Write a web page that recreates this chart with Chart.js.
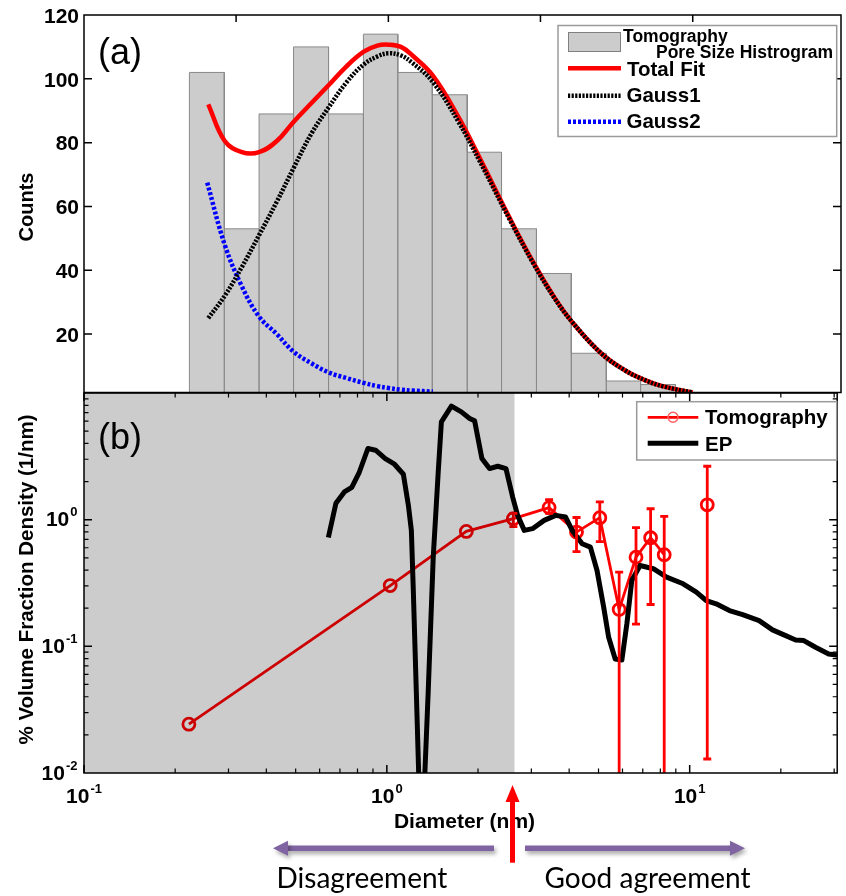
<!DOCTYPE html>
<html>
<head>
<meta charset="utf-8">
<script src="https://cdn.jsdelivr.net/npm/chart.js@4.4.1/dist/chart.umd.min.js"></script>
<style>
  body { margin: 0; background: #fff; width: 846px; height: 896px; overflow: hidden; position: relative; }
  canvas { position: absolute; left: 0; top: 0; }
</style>
</head>
<body>
<canvas id="topChart" width="846" height="896"></canvas>
<canvas id="botChart" width="846" height="896"></canvas>
<script>
// axis ranges
const xMin = 0.1, xMax = 30.7;
const countsMin = 1.7, countsMax = 120;
const densMin = 0.01, densMax = 10;

// (a) pore size histogram, bin edges in nm
const histEdges = [0.222, 0.289, 0.376, 0.488, 0.636, 0.828, 1.074, 1.394, 1.816, 2.354, 3.066, 3.99, 5.2, 6.74, 8.78];
const histCounts = [102, 53, 89, 110, 89, 114, 102, 95, 77, 53, 39, 14, 5.3, 4.2];

// (a) fit curves
const fitX = [0.256, 0.29, 0.33, 0.376, 0.43, 0.488, 0.56, 0.636, 0.73, 0.83, 0.92, 1.0, 1.1, 1.2, 1.4, 1.7, 2.0, 2.5, 3.0, 3.5, 4.0, 5.0, 6.0, 7.0, 8.0, 10.0];
const totalFit = [92, 80.5, 77, 77, 80.5, 86.5, 92.5, 98, 104, 108.5, 110.4, 110.7, 110, 107.3, 101, 88, 75, 56.5, 42.3, 31.7, 24, 14, 8.6, 5.5, 3.6, 1.7];
const gauss1 = [25, 32, 41, 51, 61.5, 72, 83, 91, 99, 104.5, 107, 108, 107.3, 105, 99, 86.5, 74, 56, 42, 31.5, 24, 14, 8.6, 5.5, 3.6, 1.7];
const gauss2X = [0.254, 0.29, 0.33, 0.376, 0.43, 0.488, 0.56, 0.636, 0.73, 0.83, 0.92, 1.0, 1.1, 1.2, 1.4];
const gauss2 = [67.5, 48, 35, 25.5, 20, 14.5, 10.8, 8, 6.2, 4.7, 3.7, 3.1, 2.6, 2.3, 2.0];

// (b) tomography points with error bars
const tomoX = [0.222, 1.026, 1.83, 2.617, 3.434, 4.23, 5.05, 5.85, 6.65, 7.43, 8.24, 11.43];
const tomoY = [0.0243, 0.302, 0.808, 1.018, 1.245, 0.798, 1.037, 0.195, 0.506, 0.72, 0.529, 1.31];
const tomoLo = [null, null, null, 0.88, 1.12, 0.56, 0.67, 0.001, 0.15, 0.214, 0.001, 0.0129];
const tomoHi = [null, null, null, 1.12, 1.44, 1.04, 1.38, 0.385, 0.865, 1.22, 1.06, 2.64];
const tomoGapBefore = [11];

// (b) EP curve
const epX = [0.641, 0.679, 0.724, 0.766, 0.811, 0.866, 0.918, 0.988, 1.06, 1.134, 1.178, 1.205, 1.223, 1.251, 1.299, 1.37, 1.423, 1.477, 1.514, 1.634, 1.762, 1.877, 1.949, 2.06, 2.183, 2.324, 2.474, 2.603, 2.703, 2.843, 3.027, 3.307, 3.609, 3.892, 4.094, 4.415, 4.701, 4.944, 5.201, 5.401, 5.677, 5.972, 6.202, 6.44, 6.857, 7.586, 8.388, 9.515, 10.52, 11.34, 12.23, 13.53, 14.96, 16.96, 18.77, 20.75, 22.38, 23.82, 26.03, 28.77, 31.44];
const epY = [0.724, 1.346, 1.654, 1.80, 2.367, 3.645, 3.534, 3.038, 2.739, 2.282, 1.298, 0.823, 0.276, 0.0446, 0.002, 0.0446, 0.506, 2.312, 5.92, 7.88, 7.10, 6.30, 6.03, 3.04, 2.532, 2.641, 2.53, 1.509, 1.081, 0.823, 0.849, 0.987, 1.081, 1.048, 0.823, 0.646, 0.607, 0.397, 0.2035, 0.1178, 0.0795, 0.078, 0.1504, 0.331, 0.435, 0.41, 0.3515, 0.3117, 0.2675, 0.23, 0.2165, 0.1916, 0.178, 0.1597, 0.1348, 0.1215, 0.1123, 0.111, 0.0983, 0.0871, 0.0844];

// region where tomography disagrees
const shadeLimit = 2.64;

// ticks
const countTicks = [20, 40, 60, 80, 100, 120];
const topEdgeTicks = [0.316, 1, 3.16, 10];
const xDecades = [0.1, 1, 10], xExps = ['-1', '0', '1'];
const yDecades = [0.01, 0.1, 1], yExps = ['-2', '-1', '0'];

const FONT = '"Liberation Sans", Arial, sans-serif';

function pairs(xs, ys) {
  return xs.map((x, i) => ({ x: x, y: ys[i] }));
}

function histOutline() {
  const pts = [];
  for (let i = 0; i < histCounts.length; i++) {
    pts.push({ x: histEdges[i], y: countsMin }, { x: histEdges[i], y: histCounts[i] },
             { x: histEdges[i + 1], y: histCounts[i] }, { x: histEdges[i + 1], y: countsMin });
  }
  return pts;
}

function logTicks(min, max) {
  const major = [], minor = [];
  for (let k = Math.floor(Math.log10(min)); k <= Math.ceil(Math.log10(max)); k++) {
    for (let m = 1; m <= 9; m++) {
      const v = m * Math.pow(10, k);
      if (v < min * 0.999 || v > max * 1.001) continue;
      (m === 1 ? major : minor).push(v);
    }
  }
  return { major, minor };
}

function frame(ctx, a) {
  ctx.save();
  ctx.strokeStyle = '#000';
  ctx.lineWidth = 1.5;
  ctx.strokeRect(a.left, a.top, a.right - a.left, a.bottom - a.top);
  ctx.restore();
}

function xTicks(ctx, sx, a, vals, len, top, bottom) {
  ctx.beginPath();
  vals.forEach(v => {
    const px = sx.getPixelForValue(v);
    if (top) { ctx.moveTo(px, a.top); ctx.lineTo(px, a.top + len); }
    if (bottom) { ctx.moveTo(px, a.bottom); ctx.lineTo(px, a.bottom - len); }
  });
  ctx.stroke();
}

function yTicks(ctx, sy, a, vals, len) {
  ctx.beginPath();
  vals.forEach(v => {
    const py = sy.getPixelForValue(v);
    ctx.moveTo(a.left, py); ctx.lineTo(a.left + len, py);
    ctx.moveTo(a.right, py); ctx.lineTo(a.right - len, py);
  });
  ctx.stroke();
}

function powLabel(ctx, exp, x, y, align) {
  ctx.font = 'bold 21px ' + FONT;
  const wb = ctx.measureText('10').width;
  ctx.font = 'bold 13px ' + FONT;
  const we = ctx.measureText(exp).width;
  const w = wb + we + 1;
  const x0 = align === 'right' ? x - w : x - w / 2;
  ctx.textAlign = 'left';
  ctx.textBaseline = 'middle';
  ctx.font = 'bold 21px ' + FONT;
  ctx.fillText('10', x0, y);
  ctx.font = 'bold 13px ' + FONT;
  ctx.fillText(exp, x0 + wb + 1, y - 8);
}

function vText(ctx, text, x, y, font) {
  ctx.save();
  ctx.translate(x, y);
  ctx.rotate(-Math.PI / 2);
  ctx.font = font;
  ctx.textAlign = 'center';
  ctx.textBaseline = 'alphabetic';
  ctx.fillText(text, 0, 0);
  ctx.restore();
}

function seg(ctx, x0, y0, x1, y1, color, width, dash) {
  ctx.save();
  ctx.strokeStyle = color;
  ctx.lineWidth = width;
  ctx.setLineDash(dash || []);
  ctx.beginPath();
  ctx.moveTo(x0, y0);
  ctx.lineTo(x1, y1);
  ctx.stroke();
  ctx.restore();
}

function arrow(ctx, x0, y0, x1, y1, w, head, headW, color) {
  const ang = Math.atan2(y1 - y0, x1 - x0);
  const bx = x1 - Math.cos(ang) * head, by = y1 - Math.sin(ang) * head;
  ctx.strokeStyle = color;
  ctx.lineWidth = w;
  ctx.beginPath();
  ctx.moveTo(x0, y0);
  ctx.lineTo(bx, by);
  ctx.stroke();
  ctx.fillStyle = color;
  ctx.beginPath();
  ctx.moveTo(x1, y1);
  ctx.lineTo(bx + Math.sin(ang) * headW, by - Math.cos(ang) * headW);
  ctx.lineTo(bx - Math.sin(ang) * headW, by + Math.cos(ang) * headW);
  ctx.closePath();
  ctx.fill();
}

const topDecor = {
  id: 'topDecor',
  afterDraw(chart) {
    const ctx = chart.ctx, a = chart.chartArea;
    const sx = chart.scales.x, sy = chart.scales.y;
    ctx.save();
    frame(ctx, a);
    ctx.strokeStyle = '#000';
    ctx.lineWidth = 1.5;
    xTicks(ctx, sx, a, topEdgeTicks, 7, true, false);
    yTicks(ctx, sy, a, countTicks.filter(v => v < countsMax), 8);

    ctx.fillStyle = '#000';
    ctx.font = 'bold 21px ' + FONT;
    ctx.textAlign = 'right';
    ctx.textBaseline = 'middle';
    countTicks.forEach(v => ctx.fillText(String(v), 79, sy.getPixelForValue(v) + 2));
    vText(ctx, 'Counts', 33, 207, 'bold 20px ' + FONT);

    ctx.font = '36px ' + FONT;
    ctx.textAlign = 'left';
    ctx.textBaseline = 'alphabetic';
    ctx.fillText('(a)', 98, 64);

    // legend
    ctx.fillStyle = '#fff';
    ctx.fillRect(558, 25.5, 278.7, 111);
    ctx.strokeStyle = '#9a9a9a';
    ctx.lineWidth = 1.5;
    ctx.strokeRect(558, 25.5, 278.7, 111);
    ctx.fillStyle = '#cccccc';
    ctx.fillRect(568.5, 32.5, 52, 19);
    ctx.strokeStyle = '#808080';
    ctx.lineWidth = 1;
    ctx.strokeRect(568.5, 32.5, 52, 19);
    ctx.fillStyle = '#000';
    ctx.font = 'bold 17.5px ' + FONT;
    ctx.fillText('Tomography', 623, 41.5);
    ctx.fillText('Pore Size Histrogram', 656, 57.5);
    seg(ctx, 568, 68.3, 621, 68.3, '#ff0000', 4.5);
    seg(ctx, 568, 95.7, 621, 95.7, '#000', 4.5, [2.2, 1.4]);
    seg(ctx, 568, 121.7, 621, 121.7, '#0000ff', 4.5, [3, 2]);
    ctx.font = 'bold 20.5px ' + FONT;
    ctx.fillText('Total Fit', 627, 75.5);
    ctx.fillText('Gauss1', 626.5, 102);
    ctx.fillText('Gauss2', 626.5, 128);
    ctx.restore();
  }
};

const botDecor = {
  id: 'botDecor',
  afterDatasetsDraw(chart) {
    const ctx = chart.ctx, a = chart.chartArea;
    const sx = chart.scales.x, sy = chart.scales.y;
    ctx.save();
    ctx.beginPath();
    ctx.rect(a.left, a.top, a.right - a.left, a.bottom - a.top);
    ctx.clip();
    // error bars
    ctx.strokeStyle = '#ff0000';
    ctx.lineWidth = 2.8;
    tomoX.forEach((x, i) => {
      if (tomoLo[i] === null) return;
      const px = sx.getPixelForValue(x);
      const pl = sy.getPixelForValue(tomoLo[i]);
      const ph = sy.getPixelForValue(tomoHi[i]);
      ctx.beginPath();
      ctx.moveTo(px, pl); ctx.lineTo(px, ph);
      [tomoLo[i], tomoHi[i]].forEach(v => {
        if (v < densMin || v > densMax) return;
        const py = sy.getPixelForValue(v);
        ctx.moveTo(px - 4, py); ctx.lineTo(px + 4, py);
      });
      ctx.stroke();
    });
    // shaded disagreement region
    ctx.fillStyle = 'rgba(0,0,0,0.2)';
    const sxp = sx.getPixelForValue(shadeLimit);
    ctx.fillRect(a.left, a.top, sxp - a.left, a.bottom - a.top);
    ctx.restore();
  },
  afterDraw(chart) {
    const ctx = chart.ctx, a = chart.chartArea;
    const sx = chart.scales.x, sy = chart.scales.y;
    const lx = logTicks(xMin, xMax), ly = logTicks(densMin, densMax);
    ctx.save();
    frame(ctx, a);
    ctx.strokeStyle = '#000';
    ctx.lineWidth = 1.5;
    xTicks(ctx, sx, a, lx.major, 8, true, true);
    ctx.lineWidth = 1.2;
    xTicks(ctx, sx, a, lx.minor, 4.5, true, true);
    ctx.lineWidth = 1.5;
    yTicks(ctx, sy, a, ly.major.filter(v => v > densMin && v < densMax), 8);
    ctx.lineWidth = 1.2;
    yTicks(ctx, sy, a, ly.minor, 4.5);

    ctx.fillStyle = '#000';
    yDecades.forEach((v, i) => powLabel(ctx, yExps[i], 77.5, sy.getPixelForValue(v) + 1, 'right'));
    xDecades.forEach((v, i) => powLabel(ctx, xExps[i], sx.getPixelForValue(v), 797, 'center'));
    vText(ctx, '% Volume Fraction Density (1/nm)', 33, 579.5, 'bold 20.5px ' + FONT);

    ctx.font = 'bold 21px ' + FONT;
    ctx.textAlign = 'center';
    ctx.textBaseline = 'alphabetic';
    ctx.fillText('Diameter (nm)', 464.5, 828);

    ctx.font = '36px ' + FONT;
    ctx.textAlign = 'left';
    ctx.fillText('(b)', 98, 449);

    // legend
    ctx.fillStyle = '#fff';
    ctx.fillRect(636.7, 401.7, 200, 58.3);
    ctx.strokeStyle = '#9a9a9a';
    ctx.lineWidth = 1.5;
    ctx.strokeRect(636.7, 401.7, 200, 58.3);
    seg(ctx, 647.7, 417.3, 698.3, 417.3, '#ff0000', 2.8);
    ctx.strokeStyle = '#ff6060';
    ctx.lineWidth = 1.5;
    ctx.beginPath();
    ctx.arc(673, 417.3, 5, 0, Math.PI * 2);
    ctx.stroke();
    seg(ctx, 647.7, 443.3, 698.3, 443.3, '#000', 5);
    ctx.fillStyle = '#000';
    ctx.font = 'bold 20.5px ' + FONT;
    ctx.fillText('Tomography', 705, 424);
    ctx.fillText('EP', 705, 451);

    // annotations below the axis
    ctx.save();
    ctx.shadowColor = 'rgba(0,0,0,0.35)';
    ctx.shadowBlur = 4;
    ctx.shadowOffsetX = 2;
    ctx.shadowOffsetY = 3;
    arrow(ctx, 494, 848.3, 273, 848.3, 5.5, 15, 7.5, '#8064a2');
    arrow(ctx, 525, 848.3, 745, 848.3, 5.5, 15, 7.5, '#8064a2');
    ctx.restore();
    const ax = sx.getPixelForValue(shadeLimit) - 2;
    arrow(ctx, ax, 862.7, ax, 785, 5, 17, 7, '#ff0000');

    ctx.fillStyle = '#000';
    ctx.font = '28px Lato, "Open Sans", sans-serif';
    ctx.textAlign = 'center';
    ctx.fillText('Disagreement', 362, 888);
    ctx.fillText('Good agreement', 647.5, 888);
    ctx.restore();
  }
};

const lineDefaults = { pointRadius: 0, fill: false };

new Chart(document.getElementById('topChart'), {
  type: 'line',
  data: {
    datasets: [
      Object.assign({ label: 'Gauss1', data: pairs(fitX, gauss1), borderColor: '#000', borderWidth: 4.5,
        borderDash: [2.2, 1.4], tension: 0.4, order: 0 }, lineDefaults),
      Object.assign({ label: 'Total Fit', data: pairs(fitX, totalFit), borderColor: '#ff0000', borderWidth: 4.5,
        tension: 0.4, order: 1 }, lineDefaults),
      Object.assign({ label: 'Gauss2', data: pairs(gauss2X, gauss2), borderColor: '#0000ff', borderWidth: 4.5,
        borderDash: [3, 2], tension: 0.4, order: 2 }, lineDefaults),
      { label: 'Histogram', data: histOutline(), borderColor: '#8a8a8a', borderWidth: 1, backgroundColor: '#cccccc',
        fill: 'start', pointRadius: 0, tension: 0, order: 3 }
    ]
  },
  options: {
    responsive: false,
    animation: false,
    events: [],
    layout: { padding: { left: 84, top: 15, right: 5, bottom: 896 - 392.5 } },
    plugins: { legend: { display: false }, tooltip: { enabled: false } },
    scales: {
      x: { type: 'logarithmic', min: xMin, max: xMax, display: false },
      y: { type: 'linear', min: countsMin, max: countsMax, display: false }
    }
  },
  plugins: [topDecor]
});

new Chart(document.getElementById('botChart'), {
  type: 'line',
  data: {
    datasets: [
      { label: 'EP', data: pairs(epX, epY), borderColor: '#000', borderWidth: 5, pointRadius: 0,
        tension: 0, borderJoinStyle: 'round', clip: 0, order: 0 },
      { label: 'Tomography', data: pairs(tomoX, tomoY), borderColor: '#ff0000', borderWidth: 2.8,
        pointRadius: 6, pointBorderWidth: 2.8, pointBorderColor: '#ff0000',
        pointBackgroundColor: 'rgba(255,0,0,0)', tension: 0, order: 1,
        segment: { borderColor: c => tomoGapBefore.includes(c.p1DataIndex) ? 'rgba(0,0,0,0)' : undefined } }
    ]
  },
  options: {
    responsive: false,
    animation: false,
    events: [],
    layout: { padding: { left: 84, top: 393, right: 5, bottom: 896 - 773 } },
    plugins: { legend: { display: false }, tooltip: { enabled: false } },
    scales: {
      x: { type: 'logarithmic', min: xMin, max: xMax, display: false },
      y: { type: 'logarithmic', min: densMin, max: densMax, display: false }
    }
  },
  plugins: [botDecor]
});
</script>
</body>
</html>
